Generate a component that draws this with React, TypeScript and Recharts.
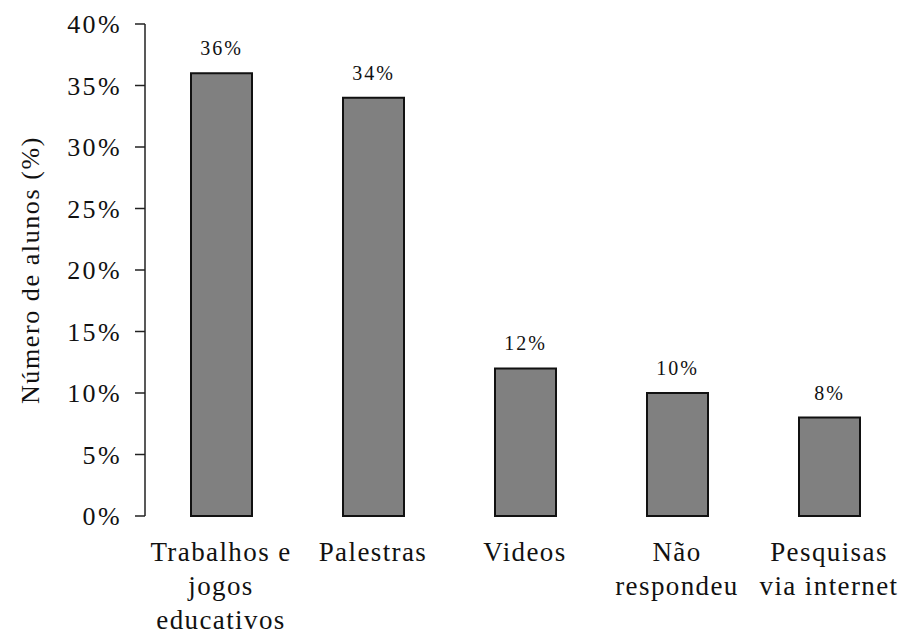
import React from 'react';
import { BarChart, Bar, XAxis, YAxis, LabelList, Label } from 'recharts';

// categories, split into the lines shown under each bar
const categories = ['Trabalhos e jogos educativos', 'Palestras', 'Videos', 'Não respondeu', 'Pesquisas via internet'];
const categoryLines = [
  ['Trabalhos e', 'jogos', 'educativos'],
  ['Palestras'],
  ['Videos'],
  ['Não', 'respondeu'],
  ['Pesquisas', 'via internet'],
];
const percentages = [36, 34, 12, 10, 8];
const yTicks = [0, 5, 10, 15, 20, 25, 30, 35, 40];

const chartData = categories.map((name, i) => ({ name, value: percentages[i], lines: categoryLines[i] }));

const FONT = '"Liberation Serif", "Times New Roman", serif';

const CategoryTick = (props: any) => {
  const { x, y, index } = props;
  const lines = categoryLines[index] || [];
  return (
    <text x={x} y={y} textAnchor="middle" fill="#111" fontFamily={FONT} fontSize={27} letterSpacing={1.4}>
      {lines.map((line, i) => (
        <tspan key={i} x={x} y={y + 45 + i * 34}>{line}</tspan>
      ))}
    </text>
  );
};

const App: React.FC = () => {
  return (
    <div style={{ position: 'absolute', left: 0, top: 0, width: 905, height: 636, background: '#fff' }}>
      <BarChart
        width={905}
        height={636}
        data={chartData}
        margin={{ top: 24, right: 0, bottom: 0, left: 0 }}
        barSize={61}
      >
        <XAxis
          dataKey="name"
          axisLine={false}
          tickLine={false}
          tickSize={0}
          tickMargin={0}
          height={120}
          interval={0}
          tick={<CategoryTick />}
        />
        <YAxis
          width={145}
          domain={[0, 40]}
          ticks={yTicks}
          tickFormatter={(v) => `${v}%`}
          axisLine={{ stroke: '#222', strokeWidth: 1.5 }}
          tickLine={{ stroke: '#222', strokeWidth: 1.5 }}
          tickSize={10}
          tickMargin={13}
          tick={{ fill: '#111', fontFamily: FONT, fontSize: 26, letterSpacing: 2.4 }}
        >
          <Label
            content={({ viewBox }: any) => {
              const cy = viewBox.y + viewBox.height / 2;
              return (
                <text
                  x={30}
                  y={cy}
                  transform={`rotate(-90, 30, ${cy})`}
                  textAnchor="middle"
                  dominantBaseline="central"
                  fill="#111"
                  fontFamily={FONT}
                  fontSize={26}
                  letterSpacing={1.6}
                >
                  Número de alunos (%)
                </text>
              );
            }}
          />
        </YAxis>
        <Bar dataKey="value" fill="#808080" stroke="#111" strokeWidth={2} isAnimationActive={false}>
          <LabelList
            dataKey="value"
            position="top"
            offset={18}
            formatter={(v: any) => `${v}%`}
            style={{ fill: '#111', fontFamily: FONT, fontSize: 20, letterSpacing: 2 }}
          />
        </Bar>
      </BarChart>
    </div>
  );
};

export default App;
